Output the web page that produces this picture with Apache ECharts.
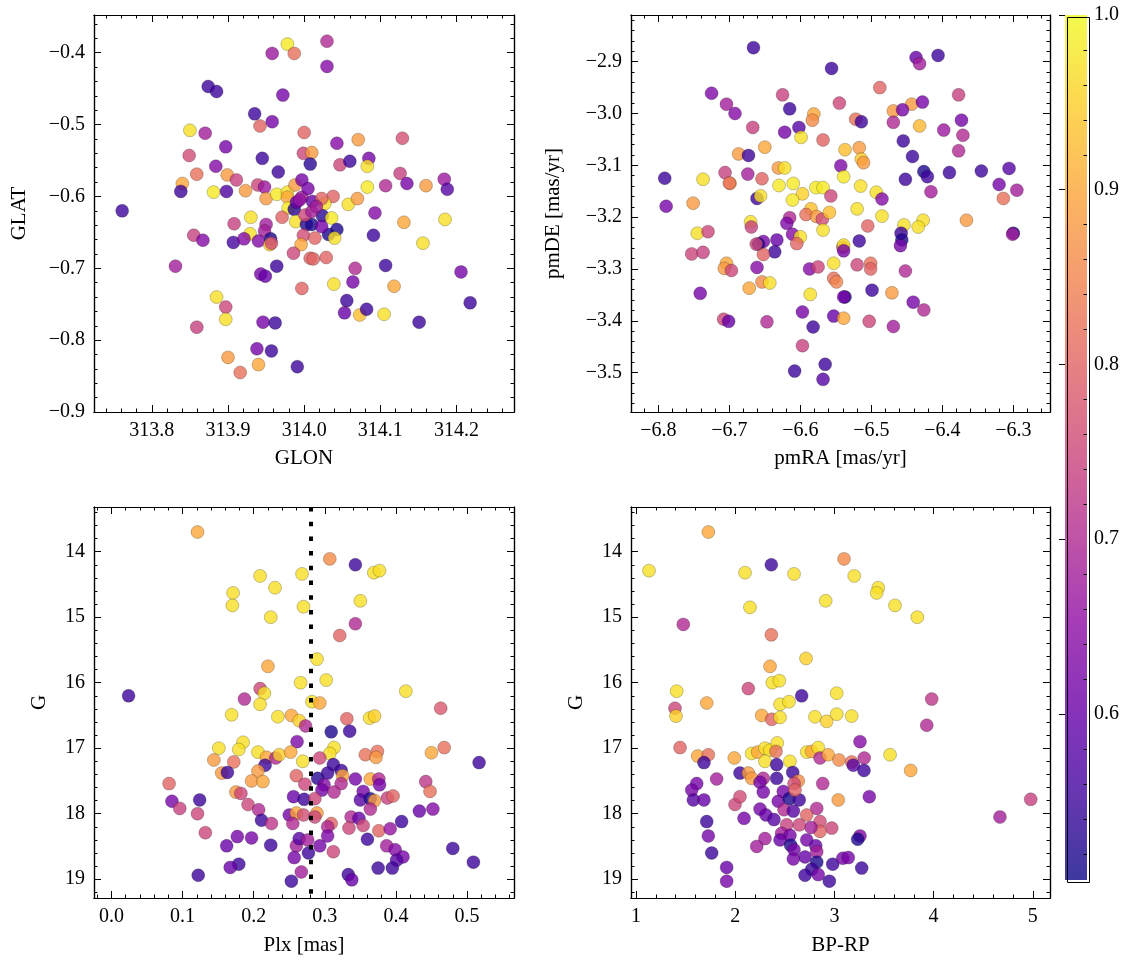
<!DOCTYPE html>
<html><head><meta charset="utf-8">
<script src="https://cdn.jsdelivr.net/npm/echarts@6/dist/echarts.min.js"></script>
<style>html,body{margin:0;padding:0;background:#fff}#c{width:1133px;height:965px}</style>
</head><body><div id="c"></div>
<script>
// ---------------- DATA ----------------
// Panel 1: GLON / GLAT
const glon = [313.978,313.958,313.987,313.874,313.885,313.972,313.935,313.958,313.942,313.850,313.870,314.000,313.897,313.849,313.945,313.999,313.884,313.966,313.859,313.899,313.840,313.838,313.911,313.881,313.898,313.923,313.939,313.948,313.950,313.964,313.978,313.978,313.988,313.997,313.979,313.987,313.990,313.997,313.971,313.989,314.003,313.930,313.908,313.950,313.948,313.929,313.855,313.867,313.907,313.921,313.940,313.956,313.955,313.957,313.999,313.996,313.986,314.008,313.964,313.831,313.943,313.949,313.997,313.885,313.897,313.897,313.859,313.946,313.962,313.938,313.957,313.900,313.940,313.916,313.991,313.761,314.030,314.030,314.010,314.008,314.043,314.071,314.129,314.047,314.060,314.085,314.083,314.083,314.107,314.126,314.135,314.160,314.184,314.188,314.058,314.070,314.038,314.093,314.131,314.185,314.091,314.156,314.027,314.024,314.036,314.010,314.011,314.043,314.032,314.040,314.023,314.014,314.012,314.029,314.067,314.064,314.107,314.039,314.118,314.056,314.053,314.073,314.082,314.105,314.151,314.206,314.218,314.023,314.001,314.010,313.994,314.005,314.016];
const glat = [-0.388,-0.401,-0.401,-0.447,-0.454,-0.459,-0.485,-0.496,-0.502,-0.508,-0.512,-0.511,-0.531,-0.543,-0.547,-0.540,-0.558,-0.566,-0.569,-0.570,-0.582,-0.593,-0.577,-0.594,-0.593,-0.592,-0.584,-0.587,-0.603,-0.597,-0.594,-0.601,-0.584,-0.577,-0.616,-0.618,-0.608,-0.601,-0.629,-0.635,-0.639,-0.629,-0.638,-0.639,-0.648,-0.652,-0.654,-0.661,-0.664,-0.659,-0.662,-0.659,-0.667,-0.665,-0.654,-0.667,-0.679,-0.686,-0.697,-0.697,-0.708,-0.711,-0.728,-0.740,-0.754,-0.771,-0.782,-0.775,-0.776,-0.812,-0.815,-0.824,-0.834,-0.845,-0.837,-0.620,-0.384,-0.419,-0.539,-0.555,-0.526,-0.521,-0.519,-0.556,-0.551,-0.547,-0.558,-0.587,-0.585,-0.568,-0.582,-0.585,-0.576,-0.590,-0.611,-0.603,-0.600,-0.623,-0.636,-0.632,-0.654,-0.665,-0.610,-0.627,-0.630,-0.639,-0.607,-0.646,-0.653,-0.658,-0.642,-0.658,-0.687,-0.685,-0.700,-0.719,-0.696,-0.722,-0.725,-0.745,-0.762,-0.765,-0.757,-0.764,-0.775,-0.705,-0.748,-0.603,-0.626,-0.621,-0.605,-0.589,-0.614];
const probPos = [0.98,0.67,0.82,0.55,0.55,0.62,0.55,0.62,0.80,0.97,0.68,0.80,0.62,0.76,0.55,0.75,0.64,0.55,0.82,0.88,0.90,0.55,0.74,0.98,0.57,0.88,0.75,0.67,0.88,0.98,0.97,0.90,0.88,0.62,0.98,0.53,0.60,0.68,0.80,0.97,0.53,0.97,0.74,0.68,0.68,0.97,0.74,0.64,0.56,0.64,0.64,0.52,0.95,0.76,0.76,0.90,0.75,0.80,0.55,0.68,0.62,0.60,0.80,0.97,0.75,0.97,0.74,0.62,0.55,0.62,0.55,0.88,0.90,0.82,0.55,0.55,0.70,0.64,0.88,0.53,0.64,0.88,0.77,0.75,0.55,0.62,0.97,0.98,0.70,0.74,0.62,0.88,0.67,0.58,0.97,0.88,0.80,0.64,0.90,0.97,0.55,0.97,0.97,0.53,0.98,0.52,0.60,0.52,0.52,0.97,0.62,0.80,0.80,0.80,0.70,0.62,0.55,0.97,0.90,0.55,0.60,0.93,0.55,0.97,0.55,0.62,0.55,0.80,0.75,0.68,0.66,0.62,0.68];

// Panel 2: pmRA / pmDE
const pmra = [-6.666,-6.556,-6.725,-6.704,-6.692,-6.625,-6.615,-6.581,-6.583,-6.545,-6.667,-6.622,-6.602,-6.599,-6.568,-6.650,-6.687,-6.673,-6.537,-6.631,-6.622,-6.543,-6.706,-6.674,-6.791,-6.737,-6.699,-6.700,-6.654,-6.630,-6.610,-6.597,-6.578,-6.568,-6.539,-6.557,-6.611,-6.661,-6.656,-6.789,-6.751,-6.585,-6.592,-6.577,-6.569,-6.559,-6.568,-6.615,-6.619,-6.670,-6.669,-6.745,-6.730,-6.611,-6.600,-6.605,-6.633,-6.652,-6.659,-6.662,-6.636,-6.652,-6.753,-6.737,-6.704,-6.707,-6.697,-6.661,-6.587,-6.575,-6.553,-6.553,-6.549,-6.537,-6.586,-6.654,-6.643,-6.672,-6.741,-6.597,-6.553,-6.582,-6.708,-6.701,-6.647,-6.597,-6.565,-6.608,-6.568,-6.539,-6.540,-6.437,-6.432,-6.406,-6.488,-6.377,-6.443,-6.428,-6.469,-6.456,-6.469,-6.522,-6.514,-6.432,-6.373,-6.398,-6.371,-6.455,-6.377,-6.442,-6.517,-6.514,-6.511,-6.515,-6.493,-6.485,-6.452,-6.426,-6.421,-6.390,-6.345,-6.306,-6.416,-6.320,-6.295,-6.314,-6.520,-6.485,-6.505,-6.454,-6.427,-6.434,-6.366,-6.300,-6.301,-6.458,-6.457,-6.459,-6.517,-6.539,-6.539,-6.520,-6.501,-6.501,-6.452,-6.539,-6.499,-6.471,-6.441,-6.426,-6.503,-6.469];
const pmde = [-2.873,-2.913,-2.961,-2.982,-3.000,-2.964,-2.991,-3.001,-3.013,-2.980,-3.027,-3.036,-3.027,-3.046,-3.051,-3.065,-3.078,-3.081,-3.070,-3.105,-3.105,-3.101,-3.114,-3.117,-3.125,-3.127,-3.135,-3.134,-3.126,-3.139,-3.135,-3.155,-3.143,-3.143,-3.122,-3.159,-3.167,-3.164,-3.159,-3.179,-3.173,-3.184,-3.195,-3.199,-3.204,-3.191,-3.225,-3.201,-3.212,-3.209,-3.219,-3.231,-3.228,-3.233,-3.238,-3.251,-3.244,-3.247,-3.252,-3.252,-3.267,-3.272,-3.271,-3.268,-3.289,-3.299,-3.303,-3.297,-3.300,-3.296,-3.289,-3.318,-3.325,-3.354,-3.349,-3.325,-3.327,-3.337,-3.347,-3.383,-3.391,-3.412,-3.397,-3.401,-3.402,-3.448,-3.484,-3.497,-3.513,-3.395,-3.258,-2.892,-2.904,-2.888,-2.950,-2.964,-2.982,-2.978,-2.995,-2.993,-3.017,-3.011,-3.016,-3.024,-3.013,-3.032,-3.042,-3.053,-3.072,-3.083,-3.066,-3.088,-3.095,-3.140,-3.152,-3.165,-3.127,-3.112,-3.122,-3.114,-3.111,-3.106,-3.151,-3.137,-3.148,-3.164,-3.184,-3.198,-3.217,-3.215,-3.206,-3.219,-3.206,-3.231,-3.233,-3.231,-3.244,-3.255,-3.246,-3.254,-3.265,-3.292,-3.289,-3.300,-3.304,-3.354,-3.341,-3.346,-3.364,-3.379,-3.401,-3.411];
const probPm = [0.55,0.55,0.63,0.68,0.64,0.74,0.55,0.90,0.86,0.75,0.74,0.62,0.58,0.97,0.80,0.90,0.88,0.55,0.93,0.88,0.97,0.63,0.74,0.68,0.55,0.97,0.88,0.82,0.80,0.98,0.98,0.95,0.98,0.98,0.98,0.75,0.98,0.55,0.97,0.62,0.88,0.93,0.82,0.88,0.76,0.93,0.97,0.70,0.63,0.97,0.74,0.97,0.75,0.64,0.97,0.80,0.60,0.62,0.52,0.75,0.55,0.80,0.75,0.74,0.90,0.88,0.75,0.64,0.64,0.75,0.97,0.82,0.85,0.52,0.97,0.86,0.97,0.90,0.62,0.62,0.60,0.55,0.75,0.60,0.70,0.74,0.55,0.55,0.58,0.90,0.80,0.60,0.68,0.55,0.80,0.74,0.88,0.62,0.88,0.62,0.70,0.82,0.55,0.92,0.62,0.67,0.70,0.55,0.70,0.55,0.88,0.94,0.88,0.97,0.97,0.64,0.55,0.52,0.55,0.55,0.55,0.58,0.68,0.62,0.68,0.82,0.97,0.97,0.80,0.97,0.97,0.97,0.88,0.52,0.68,0.55,0.52,0.62,0.55,0.97,0.62,0.75,0.82,0.80,0.70,0.62,0.55,0.88,0.62,0.70,0.75,0.68];

// Panel 3: Plx / G
const plx = [0.121,0.209,0.230,0.171,0.170,0.268,0.270,0.224,0.220,0.024,0.209,0.215,0.187,0.209,0.266,0.169,0.234,0.253,0.264,0.273,0.261,0.185,0.151,0.179,0.206,0.218,0.231,0.236,0.252,0.269,0.144,0.172,0.155,0.163,0.216,0.206,0.197,0.213,0.260,0.272,0.081,0.175,0.182,0.085,0.096,0.124,0.192,0.207,0.256,0.271,0.121,0.211,0.225,0.250,0.260,0.270,0.255,0.132,0.177,0.197,0.162,0.224,0.260,0.264,0.276,0.277,0.257,0.179,0.167,0.122,0.267,0.253,0.307,0.343,0.369,0.377,0.350,0.343,0.321,0.289,0.302,0.414,0.282,0.293,0.463,0.331,0.363,0.370,0.309,0.335,0.313,0.307,0.293,0.357,0.374,0.372,0.450,0.468,0.517,0.312,0.323,0.304,0.290,0.325,0.343,0.364,0.376,0.377,0.323,0.299,0.296,0.313,0.354,0.350,0.364,0.370,0.364,0.388,0.396,0.442,0.448,0.433,0.452,0.286,0.289,0.286,0.309,0.304,0.337,0.348,0.334,0.354,0.376,0.392,0.408,0.304,0.293,0.312,0.360,0.387,0.399,0.410,0.401,0.375,0.395,0.333,0.338,0.480,0.509];
const gPlx = [13.70,14.37,14.55,14.63,14.82,14.34,14.84,15.00,15.75,16.20,16.09,16.16,16.25,16.33,16.00,16.49,16.52,16.50,16.58,16.66,16.90,16.91,17.00,17.02,17.06,17.14,17.15,17.10,17.06,17.20,17.18,17.21,17.38,17.37,17.26,17.35,17.50,17.51,17.42,17.55,17.54,17.67,17.69,17.81,17.92,17.79,17.86,17.94,17.74,17.78,18.00,18.10,18.15,18.02,17.99,18.02,18.15,18.29,18.35,18.37,18.49,18.48,18.49,18.38,18.40,18.60,18.67,18.77,18.82,18.94,18.89,19.03,14.11,14.20,14.32,14.29,14.75,15.10,15.28,15.64,15.96,16.13,16.29,16.31,16.39,16.55,16.54,16.51,16.75,16.74,16.99,17.08,17.15,17.10,17.05,17.14,17.07,16.99,17.22,17.25,17.34,17.38,17.46,17.42,17.47,17.47,17.47,17.56,17.54,17.56,17.64,17.67,17.66,17.79,17.77,17.80,17.93,17.76,17.73,17.51,17.66,17.96,17.93,17.77,17.99,18.05,18.15,18.20,18.05,18.07,18.22,18.18,18.26,18.23,18.12,18.34,18.49,18.58,18.39,18.49,18.55,18.66,18.71,18.83,18.83,18.93,19.01,18.53,18.74];
const probPlx = [0.90,0.97,0.97,0.97,0.97,0.97,0.97,0.97,0.90,0.55,0.75,0.97,0.70,0.97,0.97,0.97,0.97,0.90,0.95,0.70,0.63,0.97,0.97,0.97,0.97,0.90,0.70,0.95,0.90,0.97,0.88,0.82,0.88,0.55,0.55,0.88,0.88,0.90,0.80,0.75,0.80,0.88,0.75,0.62,0.74,0.55,0.75,0.70,0.60,0.55,0.75,0.55,0.72,0.62,0.90,0.76,0.70,0.75,0.62,0.62,0.60,0.55,0.68,0.58,0.68,0.55,0.62,0.55,0.60,0.55,0.68,0.55,0.86,0.55,0.97,0.97,0.97,0.70,0.80,0.97,0.97,0.97,0.97,0.90,0.78,0.80,0.97,0.95,0.52,0.55,0.97,0.97,0.75,0.82,0.82,0.88,0.90,0.82,0.55,0.55,0.55,0.55,0.53,0.90,0.62,0.90,0.70,0.62,0.70,0.64,0.62,0.70,0.62,0.58,0.52,0.88,0.70,0.74,0.80,0.72,0.82,0.60,0.64,0.75,0.88,0.75,0.80,0.70,0.70,0.60,0.75,0.75,0.80,0.66,0.55,0.63,0.62,0.75,0.55,0.68,0.64,0.62,0.58,0.55,0.55,0.55,0.60,0.55,0.55];
const plxLine = 0.28;

// Panel 4: BP-RP / G
const bprp = [1.729,1.131,2.099,2.364,2.593,2.149,2.912,1.477,2.364,2.714,2.351,2.374,2.445,2.132,2.670,3.023,1.410,1.393,1.403,1.713,2.452,2.542,2.267,2.368,2.452,2.804,2.922,3.023,1.444,1.622,1.729,1.685,1.991,2.166,2.227,2.300,2.351,2.424,2.300,2.411,2.552,2.418,2.721,2.771,2.837,2.855,2.938,3.046,2.048,2.132,2.166,2.283,2.250,2.418,2.580,2.636,2.593,2.882,1.813,1.612,1.562,1.578,1.685,1.998,2.048,2.283,2.434,2.485,2.545,2.646,2.603,3.039,2.089,2.250,2.310,2.391,2.492,2.586,2.822,2.721,2.855,2.973,2.855,2.764,2.646,2.519,2.468,2.552,2.452,2.559,2.300,2.217,2.721,2.812,2.822,2.593,2.704,2.586,2.822,2.771,2.704,2.837,2.949,2.983,1.713,1.729,1.763,1.914,1.914,3.085,3.097,3.200,3.442,3.426,3.611,3.836,3.981,3.931,3.174,3.258,3.301,3.174,3.190,3.298,3.561,3.769,3.352,3.258,3.235,3.140,3.275,4.669,4.979];
const gCol = [13.70,14.29,14.32,14.20,14.34,14.85,14.75,15.11,15.27,15.63,15.75,16.00,15.97,16.09,16.20,16.16,16.13,16.39,16.51,16.31,16.33,16.29,16.50,16.56,16.53,16.52,16.59,16.48,16.99,17.12,17.10,17.22,17.15,17.08,17.06,17.00,17.03,16.92,17.20,17.05,17.20,17.25,17.06,17.05,16.99,17.15,17.10,17.18,17.38,17.38,17.46,17.46,17.52,17.46,17.37,17.50,17.54,17.54,17.47,17.54,17.64,17.79,17.79,17.86,17.74,17.67,17.81,17.66,17.77,17.79,17.64,17.79,18.07,17.93,18.02,18.09,17.94,17.96,17.92,18.02,18.12,18.22,18.27,18.21,18.17,18.17,18.30,18.33,18.40,18.48,18.38,18.50,18.40,18.49,18.58,18.55,18.66,18.69,18.74,18.85,18.94,18.93,19.03,18.77,18.12,18.34,18.60,18.82,19.03,18.68,14.11,14.37,14.55,14.63,14.82,15.00,16.25,16.65,16.51,16.90,17.15,17.21,17.26,17.34,17.10,17.34,17.74,18.34,18.39,18.67,18.83,18.05,17.78];
const probCol = [0.90,0.97,0.97,0.55,0.97,0.97,0.97,0.70,0.82,0.95,0.90,0.97,0.97,0.75,0.55,0.97,0.97,0.75,0.95,0.90,0.97,0.97,0.90,0.80,0.97,0.97,0.95,0.97,0.80,0.90,0.82,0.55,0.90,0.97,0.90,0.97,0.97,0.97,0.97,0.82,0.97,0.55,0.97,0.90,0.97,0.70,0.90,0.86,0.55,0.88,0.88,0.70,0.62,0.55,0.55,0.86,0.76,0.70,0.68,0.62,0.62,0.58,0.60,0.75,0.76,0.62,0.62,0.62,0.52,0.55,0.80,0.88,0.62,0.62,0.60,0.58,0.70,0.58,0.70,0.80,0.76,0.75,0.80,0.68,0.75,0.74,0.68,0.62,0.60,0.52,0.68,0.68,0.62,0.60,0.68,0.62,0.60,0.62,0.52,0.55,0.55,0.62,0.55,0.55,0.55,0.62,0.55,0.60,0.62,0.62,0.86,0.97,0.97,0.97,0.97,0.97,0.72,0.70,0.97,0.64,0.70,0.82,0.58,0.55,0.97,0.90,0.62,0.64,0.52,0.62,0.55,0.68,0.74];

// Tick labels
const ticksGlon = [313.8, 313.9, 314.0, 314.1, 314.2];
const ticksGlat = [-0.9, -0.8, -0.7, -0.6, -0.5, -0.4];
const ticksPmra = [-6.8, -6.7, -6.6, -6.5, -6.4, -6.3];
const ticksPmde = [-3.5, -3.4, -3.3, -3.2, -3.1, -3.0, -2.9];
const ticksPlx = [0.0, 0.1, 0.2, 0.3, 0.4, 0.5];
const ticksG = [14, 15, 16, 17, 18, 19];
const ticksBprp = [1, 2, 3, 4, 5];
const ticksProb = [0.6, 0.7, 0.8, 0.9, 1.0];
const probMin = 0.505, probMax = 1.0;

// ---------------- CHART ----------------
const FONT = '"Liberation Serif", "DejaVu Serif", serif';
const PLASMA = ['#0d0887','#41049d','#6a00a8','#8f0da4','#b12a90','#cc4778','#e16462','#f2844b','#fca636','#fcce25','#f0f921'];

function fmtNum(v, d) { return (v < 0 ? '\u2212' : '') + Math.abs(v).toFixed(d); }
function minorTicks(majors, lo, hi, nsub) {
  const step = (majors[1] - majors[0]) / nsub;
  const a = Math.min(lo, hi), b = Math.max(lo, hi);
  const out = [];
  for (let k = Math.ceil(a / step - 1e-6); k <= Math.floor(b / step + 1e-6); k++) {
    const v = Math.round(k * step * 1e6) / 1e6;
    if (!majors.some(m => Math.abs(m - v) < step / 100)) out.push(v);
  }
  return out;
}

const xAxes = [], yAxes = [];
function addAxes(dim, grid, ext, majors, digits, name, nameGap, inverse, nsub) {
  const list = dim === 'x' ? xAxes : yAxes;
  const minors = minorTicks(majors, ext[0], ext[1], nsub || 5);
  const posA = dim === 'x' ? 'bottom' : 'left', posB = dim === 'x' ? 'top' : 'right';
  const base = (pos, ticks, len, labels) => ({
    type: 'value', gridIndex: grid, position: pos, min: ext[0], max: ext[1], inverse: !!inverse,
    axisLine: { show: true, onZero: false, lineStyle: { color: '#000', width: 1.2 } },
    axisTick: { show: true, inside: true, length: len, customValues: ticks, lineStyle: { color: '#000', width: 1 } },
    axisLabel: labels ? { show: true, customValues: labels, formatter: v => fmtNum(v, digits), margin: 9, color: '#000', fontFamily: FONT, fontSize: 20 } : { show: false },
    splitLine: { show: false }, axisPointer: { show: false }
  });
  const main = base(posA, majors, 7, majors);
  main.name = name; main.nameLocation = 'middle'; main.nameGap = nameGap;
  main.nameTextStyle = { fontFamily: FONT, fontSize: 21, color: '#000' };
  const idx = list.length;
  list.push(main, base(posB, majors, 7, null), base(posA, minors, 3.5, null), base(posB, minors, 3.5, null));
  return idx;
}

const grids = [
  { left: 94, top: 15, width: 420, height: 397 },
  { left: 631, top: 15, width: 419, height: 397 },
  { left: 94, top: 507, width: 420, height: 391 },
  { left: 631, top: 507, width: 419, height: 391 },
  { left: 1065, top: 15, width: 22, height: 865 }
];

const p1x = addAxes('x', 0, [313.724, 314.2756], ticksGlon, 1, 'GLON', 36);
const p1y = addAxes('y', 0, [-0.9, -0.3475], ticksGlat, 1, 'GLAT', 64);
const p2x = addAxes('x', 1, [-6.8385, -6.2483], ticksPmra, 1, 'pmRA [mas/yr]', 36);
const p2y = addAxes('y', 1, [-3.576, -2.810], ticksPmde, 1, 'pmDE [mas/yr]', 67);
const p3x = addAxes('x', 2, [-0.0246, 0.5661], ticksPlx, 1, 'Plx [mas]', 37);
const p3y = addAxes('y', 2, [13.318, 19.287], ticksG, 0, 'G', 44, true);
const p4x = addAxes('x', 3, [0.9496, 5.1734], ticksBprp, 0, 'BP-RP', 37);
const p4y = addAxes('y', 3, [13.318, 19.287], ticksG, 0, 'G', 44, true);

// colorbar axes
xAxes.push({ type: 'value', gridIndex: 4, show: false, min: 0, max: 1 });
const cbMinor = minorTicks(ticksProb, probMin, probMax, 5);
yAxes.push({
  type: 'value', gridIndex: 4, position: 'right', min: probMin, max: probMax, z: 10,
  axisLine: { show: false },
  axisTick: { show: true, inside: true, length: 6, customValues: ticksProb, lineStyle: { color: '#000', width: 1 } },
  axisLabel: { show: true, customValues: ticksProb, formatter: v => fmtNum(v, 1), margin: 7, color: '#000', fontFamily: FONT, fontSize: 20 },
  splitLine: { show: false }
});
yAxes.push({
  type: 'value', gridIndex: 4, position: 'right', min: probMin, max: probMax, z: 10,
  axisLine: { show: false },
  axisTick: { show: true, inside: true, length: 3.5, customValues: cbMinor, lineStyle: { color: '#000', width: 1 } },
  axisLabel: { show: false }, splitLine: { show: false }
});

function zip(a, b, c) { return a.map((v, i) => [v, b[i], c[i]]); }
function scat(xi, yi, data, extra) {
  return Object.assign({
    type: 'scatter', xAxisIndex: xi, yAxisIndex: yi, data: data, symbolSize: 13, silent: true,
    itemStyle: { opacity: 0.8, borderColor: 'rgba(0,0,0,0.55)', borderWidth: 0.5 },
    emphasis: { disabled: true }
  }, extra || {});
}

const series = [
  scat(p1x, p1y, zip(glon, glat, probPos)),
  scat(p2x, p2y, zip(pmra, pmde, probPm)),
  scat(p3x, p3y, zip(plx, gPlx, probPlx), {
    markLine: {
      silent: true, symbol: ['none', 'none'], label: { show: false }, animation: false,
      lineStyle: { color: '#000', width: 4, type: [4.5, 10.2], cap: 'butt', opacity: 1 },
      emphasis: { disabled: true },
      data: [{ xAxis: plxLine }]
    }
  }),
  scat(p4x, p4y, zip(bprp, gCol, probCol))
];

const chart = echarts.init(document.getElementById('c'), null, { renderer: 'canvas' });
chart.setOption({
  animation: false,
  backgroundColor: '#fff',
  grid: grids,
  xAxis: xAxes,
  yAxis: yAxes,
  visualMap: {
    type: 'continuous', show: false, min: probMin, max: probMax, dimension: 2,
    seriesIndex: [0, 1, 2, 3], inRange: { color: PLASMA }
  },
  series: series,
  graphic: [
    { type: 'rect', left: 1065, top: 15, z: 1, shape: { width: 22, height: 865 },
      style: { opacity: 0.8, fill: { type: 'linear', x: 0, y: 1, x2: 0, y2: 0,
        colorStops: PLASMA.map((c, i) => ({ offset: i / (PLASMA.length - 1), color: c })) } } },
    { type: 'rect', left: 1065, top: 15, z: 20, shape: { width: 22, height: 865 },
      style: { fill: 'none', stroke: '#000', lineWidth: 1 } }
  ]
});
</script>
</body></html>
